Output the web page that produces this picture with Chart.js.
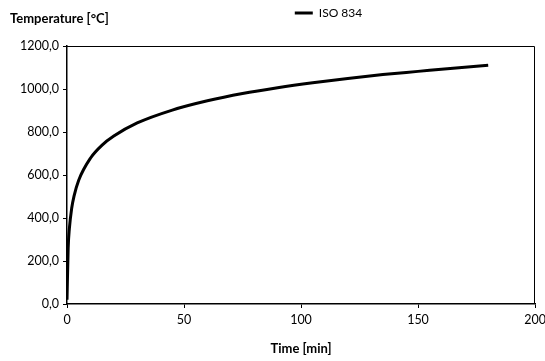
<!DOCTYPE html>
<html>
<head>
<meta charset="utf-8">
<script src="https://cdn.jsdelivr.net/npm/chart.js@4"></script>
<style>
  html, body { margin: 0; padding: 0; background: #fff; }
  #wrap { width: 545px; height: 361px; }
</style>
</head>
<body>
<div id="wrap"><canvas id="chart" width="545" height="361"></canvas></div>
<script>
// values
const times = [0, 0.5, 1, 2, 3, 5, 10, 15, 20, 30, 45, 60, 75, 90, 105, 120, 135, 150, 165, 180];
const temps = [20, 261, 349, 445, 502, 576, 678, 739, 781, 842, 902, 945, 979, 1006, 1029, 1049, 1067, 1082, 1097, 1110];
const seriesName = "ISO 834";
const yTitle = "Temperature [\u00B0C]";
const xTitle = "Time [min]";

const font = "Lato, 'Open Sans', sans-serif";

const frame = {
    id: "frame",
    beforeInit(chart) {
        // extra room below the legend, like the original
        const lg = chart.legend;
        if (lg) {
            const fit = lg.fit;
            lg.fit = function() {
                fit.call(this);
                this.height += 17;
            };
        }
    },
    afterLayout(chart) {
        // legend sits right of centre in the original
        if (chart.legend) {
            chart.legend.left += 61;
            chart.legend.right += 61;
        }
    },
    afterDraw(chart) {
        const a = chart.chartArea;
        const ctx = chart.ctx;
        ctx.save();
        ctx.strokeStyle = "#000";
        ctx.lineWidth = 1;
        ctx.beginPath();
        ctx.moveTo(a.left, a.top + 0.5);
        ctx.lineTo(a.right - 0.5, a.top + 0.5);
        ctx.lineTo(a.right - 0.5, a.bottom);
        ctx.stroke();
        // y axis title, top left
        ctx.fillStyle = "#000";
        ctx.font = "bold 13px " + font;
        ctx.textBaseline = "middle";
        ctx.fillText(yTitle, 10, 19);
        ctx.restore();
    }
};

const ctx = document.getElementById("chart").getContext("2d");
new Chart(ctx, {
    type: "line",
    data: {
        datasets: [{
            label: seriesName,
            data: times.map((t, i) => ({x: t, y: temps[i]})),
            borderColor: "#000",
            backgroundColor: "#000",
            borderWidth: 3,
            pointRadius: 0,
            cubicInterpolationMode: "monotone",
            fill: false
        }]
    },
    plugins: [frame],
    options: {
        responsive: false,
        animation: false,
        layout: { padding: { top: 0, right: 10, left: 0, bottom: 0 } },
        plugins: {
            legend: {
                display: true,
                position: "top",
                labels: {
                    usePointStyle: true,
                    pointStyle: "line",
                    pointStyleWidth: 18,
                    color: "#000",
                    font: { family: font, size: 12 },
                    padding: 7,
                    boxHeight: 3
                }
            },
            tooltip: { enabled: false }
        },
        scales: {
            x: {
                type: "linear",
                min: 0,
                max: 200,
                ticks: { stepSize: 50, color: "#000", font: { family: font, size: 12.5 }, padding: 4 },
                grid: { display: true, drawOnChartArea: false, color: "#000", tickLength: 4 },
                border: { color: "#000", width: 1.5 },
                title: { display: true, text: xTitle, color: "#000", font: { family: font, size: 13, weight: "bold" }, padding: { top: 6 } },
                afterFit(scale) {
                    scale.height = 57;
                    scale.paddingRight = 0;
                }
            },
            y: {
                min: 0,
                max: 1200,
                ticks: {
                    stepSize: 200,
                    color: "#000",
                    font: { family: font, size: 12.5 },
                    padding: 4,
                    callback: v => v.toFixed(1).replace(".", ",")
                },
                grid: { display: true, drawOnChartArea: false, color: "#000", tickLength: 4 },
                border: { color: "#000", width: 1.5 },
                afterFit(scale) { scale.width = 67; }
            }
        }
    }
});
</script>
</body>
</html>
